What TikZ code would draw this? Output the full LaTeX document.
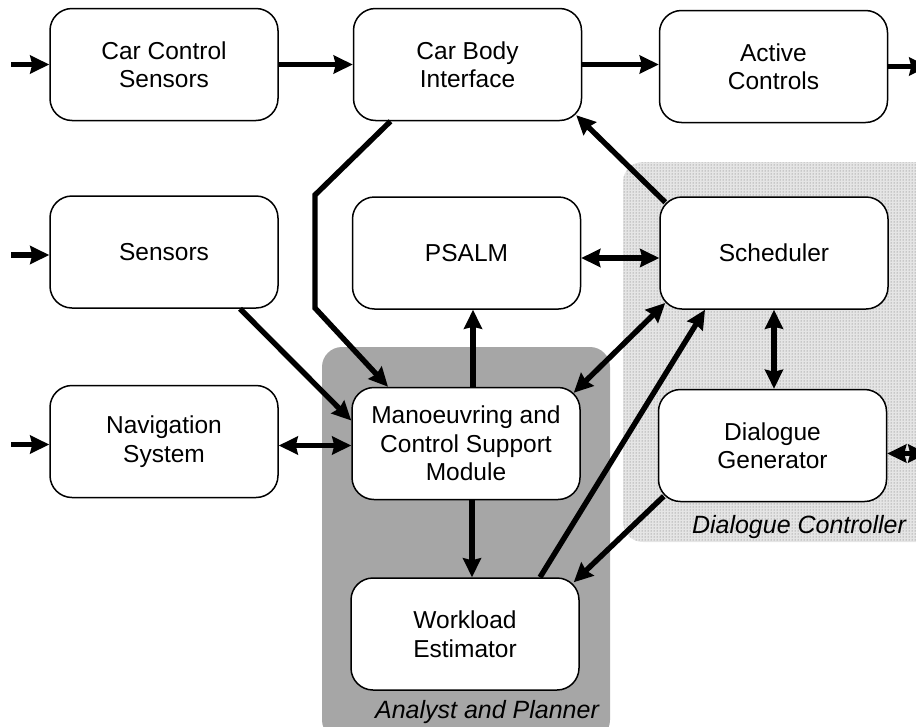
\documentclass[tikz,border=0pt]{standalone}
\usepackage{fontspec}
\setmainfont{Liberation Sans}
\usetikzlibrary{arrows.meta,patterns,calc}
\newcommand\bxfont{\fontsize{24.5}{28.5}\selectfont}
\newcommand\grfont{\fontsize{25}{28}\selectfont\itshape}
\begin{document}
\begin{tikzpicture}[x=1pt,y=-1pt,
  box/.style={draw,line width=1.5pt,rounded corners=22pt,fill=white,
    minimum width=228pt,minimum height=112pt,inner sep=0pt,align=center,font=\bxfont},
  tip/.tip={Stealth[length=19pt,width=18pt,inset=2pt]},
  arr/.style={line width=5.4pt,-tip},
  darr/.style={line width=5.4pt,tip-tip},
  grp/.style={font=\grfont,inner sep=0pt}]
\useasboundingbox (0,0) rectangle (916,726);
% group regions
\fill[black!35,rounded corners=20pt] (322,347) rectangle (610,740);
\fill[black!10,rounded corners=20pt] (623,162) rectangle (950,542);
\fill[pattern=dots,pattern color=black!60,rounded corners=20pt] (623,162) rectangle (950,542);
% boxes
\node[box] (ccs)   at (164,64.5) {Car Control\\Sensors};
\node[box] (cbi)   at (467.5,64.5) {Car Body\\Interface};
\node[box] (act)   at (773.5,66.5) {Active\\Controls};
\node[box] (sens)  at (164,252) {Sensors};
\node[box] (psalm) at (466.5,253) {PSALM};
\node[box] (sched) at (774,253) {Scheduler};
\node[box] (nav)   at (164,441.5) {Navigation\\System};
\node[box] (mcsm)  at (466,443.5) {Manoeuvring and\\Control Support\\Module};
\node[box] (dgen)  at (772.5,445.5) {Dialogue\\Generator};
\node[box] (wle)   at (465,634) {Workload\\Estimator};
% group labels
\node[grp] (lap) at (487,712) {Analyst and Planner};
\node[grp] (ldc) at (799,527) {Dialogue Controller};
% free ends
\coordinate (in1) at ([xshift=-38pt]ccs.west);
\coordinate (in2) at ([xshift=-38pt,yshift=-3pt]sens.west);
\coordinate (in3) at ([xshift=-38pt,yshift=-3pt]nav.west);
\coordinate (out1) at ([xshift=40pt]act.east);
\coordinate (out2) at ([xshift=40pt,yshift=-8pt]dgen.east);
\coordinate (b1) at (315,195);
\coordinate (b2) at (315,308);
% connectors
\draw[arr] (in1) -- (ccs.west);
\draw[arr] (in2) -- (in2 -| sens.west);
\draw[arr] (in3) -- (in3 -| nav.west);
\draw[arr] (ccs.east) -- (cbi.west);
\draw[arr] (cbi.east) -- (cbi.east -| act.west);
\draw[arr] (act.east) -- (out1);
\draw[darr] ([yshift=-8pt]dgen.east) -- (out2);
\draw[darr] ([yshift=-4pt]nav.east) -- ([yshift=-4pt]nav.east -| mcsm.west);
\draw[arr] ([xshift=76pt]sens.south) -- ([yshift=23pt]mcsm.west);
\draw[arr] ([xshift=-77pt]cbi.south) -- (b1) -- (b2) -- ([xshift=-78pt]mcsm.north);
\draw[arr] ([xshift=7pt]mcsm.north) -- ([xshift=7pt]mcsm.north |- psalm.south);
\draw[darr] ([yshift=-5pt]psalm.east) -- ([yshift=-5pt]psalm.east -| sched.west);
\draw[darr] ([xshift=6pt,yshift=-50pt]sched.west) -- ([xshift=-7pt,yshift=-6pt]mcsm.north east);
\draw[arr] ([xshift=75pt]wle.north) -- ([xshift=-69pt]sched.south);
\draw[darr] (sched.south) -- (sched.south |- dgen.north);
\draw[arr] ([xshift=6pt,yshift=-6pt]sched.north west) -- ([xshift=-6pt,yshift=6pt]cbi.south east);
\draw[arr] ([xshift=6pt,yshift=6pt]dgen.south west) -- ([xshift=-6pt,yshift=-5pt]wle.north east);
\draw[arr] ([xshift=6pt]mcsm.south) -- ([xshift=6pt]mcsm.south |- wle.north);
\end{tikzpicture}
\end{document}
